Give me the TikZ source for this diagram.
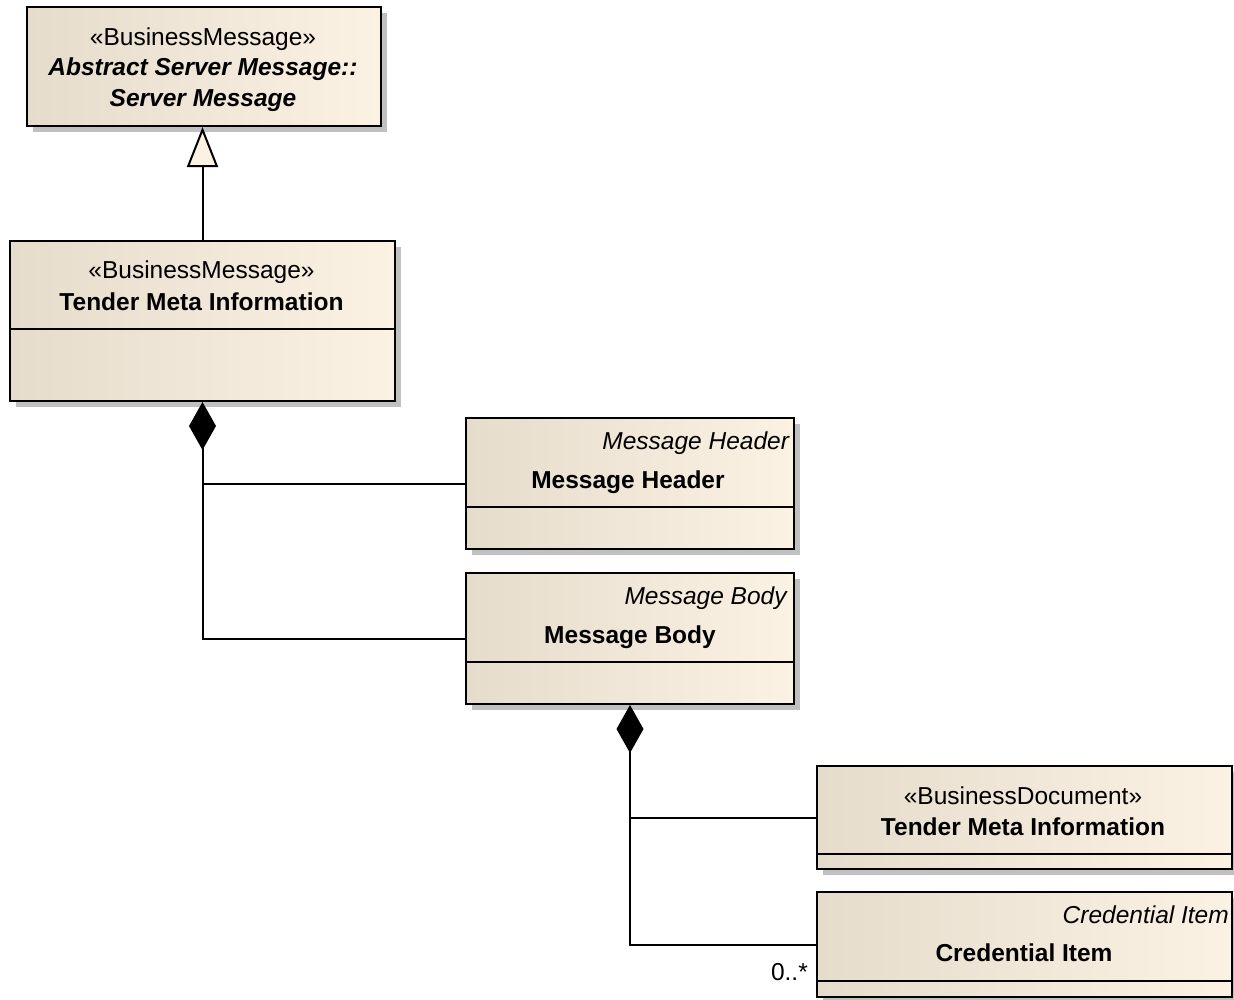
\documentclass[tikz,border=0pt]{standalone}
\usepackage{fontspec}
\setmainfont{Liberation Sans}
\usetikzlibrary{shadows,arrows.meta}
\definecolor{boxleft}{HTML}{E6DCCC}
\definecolor{boxright}{HTML}{FCF2E4}
\definecolor{shadowgray}{HTML}{C0C0C0}
\tikzset{
  umlbox/.style={draw=black, line width=2pt, rectangle, anchor=north west, inner sep=0pt,
    left color=boxleft, right color=boxright,
    drop shadow={shadow xshift=6pt, shadow yshift=-6pt, fill=shadowgray, opacity=1}},
  lbl/.style={anchor=base, inner sep=0pt, font=\fontsize{24.5}{28}\selectfont},
  lblr/.style={lbl, anchor=base east},
  conn/.style={draw=black, line width=2pt},
  divider/.style={draw=black, line width=2pt},
  compo/.style={conn, {Diamond[length=48pt,width=27pt]}-},
  gener/.style={conn, -{Triangle[length=40pt,width=31pt,fill=boxright]}}
}
\begin{document}
\begin{tikzpicture}[x=1pt,y=-1pt]
\useasboundingbox (0,0) rectangle (1234,999);
\fill[white] (0,0) rectangle (1234,999);

% boxes
\node[umlbox, minimum width=354pt, minimum height=119pt] (b1) at (26,6) {};
\node[umlbox, minimum width=385pt, minimum height=160pt] (b2) at (9,240) {};
\node[umlbox, minimum width=328pt, minimum height=131pt] (b3) at (465,417) {};
\node[umlbox, minimum width=328pt, minimum height=131pt] (b4) at (465,572) {};
\node[umlbox, minimum width=415pt, minimum height=103pt] (b5) at (816,765) {};
\node[umlbox, minimum width=415pt, minimum height=105pt] (b6) at (816,891) {};

% dividers
\draw[divider] ([yshift=-89pt]b2.north west) -- ([yshift=-89pt]b2.north east);
\draw[divider] ([yshift=-90pt]b3.north west) -- ([yshift=-90pt]b3.north east);
\draw[divider] ([yshift=-90pt]b4.north west) -- ([yshift=-90pt]b4.north east);
\draw[divider] ([yshift=-89pt]b5.north west) -- ([yshift=-89pt]b5.north east);
\draw[divider] ([yshift=-90pt]b6.north west) -- ([yshift=-90pt]b6.north east);

% texts
\node[lbl] (t1a) at (203,45) {«BusinessMessage»};
\node[lbl] (t1b) at (203,75) {\textbf{\textit{Abstract Server Message::}}};
\node[lbl] (t1c) at (203,106) {\textbf{\textit{Server Message}}};

\node[lbl] (t2a) at (201.5,278) {«BusinessMessage»};
\node[lbl] (t2b) at (201.5,310) {\textbf{Tender Meta Information}};

\node[lblr] (t3a) at (790,449) {\textit{Message Header}};
\node[lbl] (t3b) at (628,488) {\textbf{Message Header}};

\node[lblr] (t4a) at (788,604) {\textit{Message Body}};
\node[lbl] (t4b) at (630,643) {\textbf{Message Body}};

\node[lbl] (t5a) at (1023,804) {«BusinessDocument»};
\node[lbl] (t5b) at (1023,835) {\textbf{Tender Meta Information}};

\node[lblr] (t6a) at (1229,923) {\textit{Credential Item}};
\node[lbl] (t6b) at (1024,961) {\textbf{Credential Item}};

% connectors
\draw[gener] (b2.north) -- (b2.north |- b1.south);

\draw[compo] (b2.south) |- (b4.west);
\draw[conn] (b2.south |- b3.west) -- (b3.west);

\draw[compo] (b4.south) |- (b6.west);
\draw[conn] (b4.south |- b5.west) -- (b5.west);

\node[lblr] (m6) at (808,980) {0..*};
\end{tikzpicture}
\end{document}
